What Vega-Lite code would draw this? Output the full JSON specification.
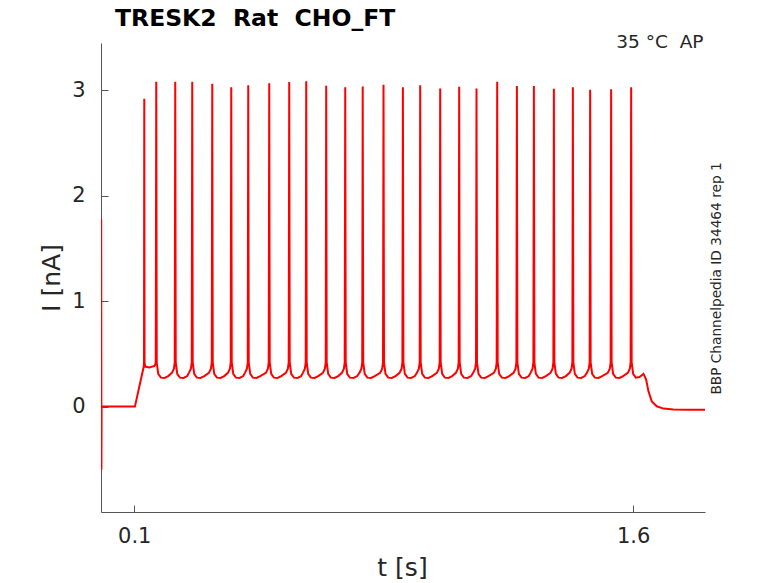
{
  "$schema": "https://vega.github.io/schema/vega-lite/v6.json",
  "autosize": {"type": "none"},
  "padding": {"left": 101, "top": 43, "right": 73, "bottom": 71},
  "width": 604,
  "height": 469,
  "background": "white",
  "config": {
    "view": {"stroke": null},
    "font": "DejaVu Sans",
    "axis": {"grid": false, "labelFont": "DejaVu Sans", "titleFont": "DejaVu Sans", "titleFontWeight": "normal", "labelColor": "#262626", "titleColor": "#262626", "domainColor": "#555555", "tickColor": "#555555"}
  },
  "title": {
    "text": "TRESK2\u00a0\u00a0Rat\u00a0\u00a0CHO_FT",
    "anchor": "start",
    "frame": "group",
    "dx": 14,
    "dy": 28,
    "offset": 11,
    "baseline": "alphabetic",
    "font": "DejaVu Sans",
    "fontSize": 23.5,
    "fontWeight": "bold",
    "color": "#000000"
  },
  "data": {
    "values": [
      {"t": 0, "I": 0},
      {"t": 0.0006, "I": 1.78},
      {"t": 0.0012, "I": -0.6},
      {"t": 0.0018, "I": 0},
      {"t": 0.05, "I": 0.002},
      {"t": 0.102, "I": 0},
      {"t": 0.1285, "I": 0.38},
      {"t": 0.1293, "I": 0.42},
      {"t": 0.1301, "I": 2.921},
      {"t": 0.1309, "I": 0.42},
      {"t": 0.133, "I": 0.38},
      {"t": 0.145, "I": 0.372},
      {"t": 0.155, "I": 0.38},
      {"t": 0.16, "I": 0.385},
      {"t": 0.1635, "I": 0.4},
      {"t": 0.1646, "I": 0.43},
      {"t": 0.1661, "I": 3.083},
      {"t": 0.1676, "I": 0.42},
      {"t": 0.1721, "I": 0.31},
      {"t": 0.1801, "I": 0.275},
      {"t": 0.1911, "I": 0.272},
      {"t": 0.2021, "I": 0.29},
      {"t": 0.2132, "I": 0.32},
      {"t": 0.2192, "I": 0.36},
      {"t": 0.2217, "I": 0.42},
      {"t": 0.2232, "I": 3.083},
      {"t": 0.2247, "I": 0.42},
      {"t": 0.2292, "I": 0.31},
      {"t": 0.2372, "I": 0.275},
      {"t": 0.2482, "I": 0.272},
      {"t": 0.2592, "I": 0.29},
      {"t": 0.2643, "I": 0.32},
      {"t": 0.2703, "I": 0.36},
      {"t": 0.2728, "I": 0.42},
      {"t": 0.2743, "I": 3.083},
      {"t": 0.2758, "I": 0.42},
      {"t": 0.2803, "I": 0.31},
      {"t": 0.2883, "I": 0.275},
      {"t": 0.2993, "I": 0.272},
      {"t": 0.3103, "I": 0.29},
      {"t": 0.3245, "I": 0.32},
      {"t": 0.3305, "I": 0.36},
      {"t": 0.333, "I": 0.42},
      {"t": 0.3345, "I": 3.064},
      {"t": 0.336, "I": 0.42},
      {"t": 0.3405, "I": 0.31},
      {"t": 0.3485, "I": 0.275},
      {"t": 0.3595, "I": 0.272},
      {"t": 0.3705, "I": 0.29},
      {"t": 0.3816, "I": 0.32},
      {"t": 0.3876, "I": 0.36},
      {"t": 0.3901, "I": 0.42},
      {"t": 0.3916, "I": 3.031},
      {"t": 0.3931, "I": 0.42},
      {"t": 0.3976, "I": 0.31},
      {"t": 0.4056, "I": 0.275},
      {"t": 0.4166, "I": 0.272},
      {"t": 0.4276, "I": 0.29},
      {"t": 0.4327, "I": 0.32},
      {"t": 0.4387, "I": 0.36},
      {"t": 0.4412, "I": 0.42},
      {"t": 0.4427, "I": 3.048},
      {"t": 0.4442, "I": 0.42},
      {"t": 0.4487, "I": 0.31},
      {"t": 0.4567, "I": 0.275},
      {"t": 0.4677, "I": 0.272},
      {"t": 0.4787, "I": 0.29},
      {"t": 0.4958, "I": 0.32},
      {"t": 0.5018, "I": 0.36},
      {"t": 0.5043, "I": 0.42},
      {"t": 0.5058, "I": 3.067},
      {"t": 0.5073, "I": 0.42},
      {"t": 0.5118, "I": 0.31},
      {"t": 0.5198, "I": 0.275},
      {"t": 0.5308, "I": 0.272},
      {"t": 0.5418, "I": 0.29},
      {"t": 0.5559, "I": 0.32},
      {"t": 0.5619, "I": 0.36},
      {"t": 0.5644, "I": 0.42},
      {"t": 0.5659, "I": 3.079},
      {"t": 0.5674, "I": 0.42},
      {"t": 0.5719, "I": 0.31},
      {"t": 0.5799, "I": 0.275},
      {"t": 0.5909, "I": 0.272},
      {"t": 0.6019, "I": 0.29},
      {"t": 0.607, "I": 0.32},
      {"t": 0.613, "I": 0.36},
      {"t": 0.6155, "I": 0.42},
      {"t": 0.617, "I": 3.088},
      {"t": 0.6185, "I": 0.42},
      {"t": 0.623, "I": 0.31},
      {"t": 0.631, "I": 0.275},
      {"t": 0.642, "I": 0.272},
      {"t": 0.653, "I": 0.29},
      {"t": 0.6671, "I": 0.32},
      {"t": 0.6731, "I": 0.36},
      {"t": 0.6756, "I": 0.42},
      {"t": 0.6771, "I": 3.045},
      {"t": 0.6786, "I": 0.42},
      {"t": 0.6831, "I": 0.31},
      {"t": 0.6911, "I": 0.275},
      {"t": 0.7021, "I": 0.272},
      {"t": 0.7131, "I": 0.29},
      {"t": 0.7243, "I": 0.32},
      {"t": 0.7303, "I": 0.36},
      {"t": 0.7328, "I": 0.42},
      {"t": 0.7343, "I": 3.029},
      {"t": 0.7358, "I": 0.42},
      {"t": 0.7403, "I": 0.31},
      {"t": 0.7483, "I": 0.275},
      {"t": 0.7593, "I": 0.272},
      {"t": 0.7703, "I": 0.29},
      {"t": 0.7769, "I": 0.32},
      {"t": 0.7829, "I": 0.36},
      {"t": 0.7854, "I": 0.42},
      {"t": 0.7869, "I": 3.038},
      {"t": 0.7884, "I": 0.42},
      {"t": 0.7929, "I": 0.31},
      {"t": 0.8009, "I": 0.275},
      {"t": 0.8119, "I": 0.272},
      {"t": 0.8229, "I": 0.29},
      {"t": 0.8394, "I": 0.32},
      {"t": 0.8454, "I": 0.36},
      {"t": 0.8479, "I": 0.42},
      {"t": 0.8494, "I": 3.054},
      {"t": 0.8509, "I": 0.42},
      {"t": 0.8554, "I": 0.31},
      {"t": 0.8634, "I": 0.275},
      {"t": 0.8744, "I": 0.272},
      {"t": 0.8854, "I": 0.29},
      {"t": 0.8977, "I": 0.32},
      {"t": 0.9037, "I": 0.36},
      {"t": 0.9062, "I": 0.42},
      {"t": 0.9077, "I": 3.031},
      {"t": 0.9092, "I": 0.42},
      {"t": 0.9137, "I": 0.31},
      {"t": 0.9217, "I": 0.275},
      {"t": 0.9327, "I": 0.272},
      {"t": 0.9437, "I": 0.29},
      {"t": 0.9497, "I": 0.32},
      {"t": 0.9557, "I": 0.36},
      {"t": 0.9582, "I": 0.42},
      {"t": 0.9597, "I": 3.048},
      {"t": 0.9612, "I": 0.42},
      {"t": 0.9657, "I": 0.31},
      {"t": 0.9737, "I": 0.275},
      {"t": 0.9847, "I": 0.272},
      {"t": 0.9957, "I": 0.29},
      {"t": 1.0098, "I": 0.32},
      {"t": 1.0158, "I": 0.36},
      {"t": 1.0183, "I": 0.42},
      {"t": 1.0198, "I": 3.019},
      {"t": 1.0213, "I": 0.42},
      {"t": 1.0258, "I": 0.31},
      {"t": 1.0338, "I": 0.275},
      {"t": 1.0448, "I": 0.272},
      {"t": 1.0558, "I": 0.29},
      {"t": 1.0669, "I": 0.32},
      {"t": 1.0729, "I": 0.36},
      {"t": 1.0754, "I": 0.42},
      {"t": 1.0769, "I": 3.035},
      {"t": 1.0784, "I": 0.42},
      {"t": 1.0829, "I": 0.31},
      {"t": 1.0909, "I": 0.275},
      {"t": 1.1019, "I": 0.272},
      {"t": 1.1129, "I": 0.29},
      {"t": 1.119, "I": 0.32},
      {"t": 1.125, "I": 0.36},
      {"t": 1.1275, "I": 0.42},
      {"t": 1.129, "I": 3.019},
      {"t": 1.1305, "I": 0.42},
      {"t": 1.135, "I": 0.31},
      {"t": 1.143, "I": 0.275},
      {"t": 1.154, "I": 0.272},
      {"t": 1.165, "I": 0.29},
      {"t": 1.1812, "I": 0.32},
      {"t": 1.1872, "I": 0.36},
      {"t": 1.1897, "I": 0.42},
      {"t": 1.1912, "I": 3.083},
      {"t": 1.1927, "I": 0.42},
      {"t": 1.1972, "I": 0.31},
      {"t": 1.2052, "I": 0.275},
      {"t": 1.2162, "I": 0.272},
      {"t": 1.2272, "I": 0.29},
      {"t": 1.2404, "I": 0.32},
      {"t": 1.2464, "I": 0.36},
      {"t": 1.2489, "I": 0.42},
      {"t": 1.2504, "I": 3.041},
      {"t": 1.2519, "I": 0.42},
      {"t": 1.2564, "I": 0.31},
      {"t": 1.2644, "I": 0.275},
      {"t": 1.2754, "I": 0.272},
      {"t": 1.2864, "I": 0.29},
      {"t": 1.2915, "I": 0.32},
      {"t": 1.2975, "I": 0.36},
      {"t": 1.3, "I": 0.42},
      {"t": 1.3015, "I": 3.041},
      {"t": 1.303, "I": 0.42},
      {"t": 1.3075, "I": 0.31},
      {"t": 1.3155, "I": 0.275},
      {"t": 1.3265, "I": 0.272},
      {"t": 1.3375, "I": 0.29},
      {"t": 1.3516, "I": 0.32},
      {"t": 1.3576, "I": 0.36},
      {"t": 1.3601, "I": 0.42},
      {"t": 1.3616, "I": 3.016},
      {"t": 1.3631, "I": 0.42},
      {"t": 1.3676, "I": 0.31},
      {"t": 1.3756, "I": 0.275},
      {"t": 1.3866, "I": 0.272},
      {"t": 1.3976, "I": 0.29},
      {"t": 1.4087, "I": 0.32},
      {"t": 1.4147, "I": 0.36},
      {"t": 1.4172, "I": 0.42},
      {"t": 1.4187, "I": 3.031},
      {"t": 1.4202, "I": 0.42},
      {"t": 1.4247, "I": 0.31},
      {"t": 1.4327, "I": 0.275},
      {"t": 1.4437, "I": 0.272},
      {"t": 1.4547, "I": 0.29},
      {"t": 1.4607, "I": 0.32},
      {"t": 1.4667, "I": 0.36},
      {"t": 1.4692, "I": 0.42},
      {"t": 1.4707, "I": 3.007},
      {"t": 1.4722, "I": 0.42},
      {"t": 1.4767, "I": 0.31},
      {"t": 1.4847, "I": 0.275},
      {"t": 1.4957, "I": 0.272},
      {"t": 1.5067, "I": 0.29},
      {"t": 1.5238, "I": 0.32},
      {"t": 1.5298, "I": 0.36},
      {"t": 1.5323, "I": 0.42},
      {"t": 1.5338, "I": 3.01},
      {"t": 1.5353, "I": 0.42},
      {"t": 1.5398, "I": 0.31},
      {"t": 1.5478, "I": 0.275},
      {"t": 1.5588, "I": 0.272},
      {"t": 1.5698, "I": 0.29},
      {"t": 1.584, "I": 0.32},
      {"t": 1.59, "I": 0.36},
      {"t": 1.5925, "I": 0.42},
      {"t": 1.594, "I": 3.029},
      {"t": 1.5955, "I": 0.42},
      {"t": 1.6, "I": 0.31},
      {"t": 1.608, "I": 0.275},
      {"t": 1.619, "I": 0.28},
      {"t": 1.627, "I": 0.3},
      {"t": 1.631, "I": 0.31},
      {"t": 1.639, "I": 0.256},
      {"t": 1.646, "I": 0.145},
      {"t": 1.656, "I": 0.05},
      {"t": 1.671, "I": 0.003},
      {"t": 1.691, "I": -0.019},
      {"t": 1.721, "I": -0.028},
      {"t": 1.76, "I": -0.03},
      {"t": 1.816, "I": -0.03}
    ]
  },
  "layer": [
    {
      "mark": {"type": "line", "color": "#ff0000", "strokeWidth": 2, "clip": true},
      "encoding": {
        "x": {
          "field": "t", "type": "quantitative",
          "scale": {"domain": [0, 1.816], "nice": false, "zero": false},
          "axis": {
            "orient": "bottom", "values": [0.1, 1.6], "format": ".1f",
            "labelFontSize": 21, "tickSize": -7, "labelPadding": 20,
            "title": "t [s]", "titleFontSize": 25,
            "titleX": 301, "titleY": 63, "titleBaseline": "alphabetic", "titleAlign": "center"
          }
        },
        "y": {
          "field": "I", "type": "quantitative",
          "scale": {"domain": [-1, 3.45], "nice": false, "zero": false},
          "axis": {
            "orient": "left", "values": [0, 1, 2, 3],
            "labelFontSize": 21, "tickSize": -7, "labelPadding": 23,
            "title": "I [nA]", "titleFontSize": 25, "titleAngle": 270,
            "titleX": -42, "titleY": 234.5, "titleBaseline": "alphabetic", "titleAlign": "center"
          }
        }
      }
    },
    {
      "mark": {"type": "point", "opacity": 0, "size": 0},
      "encoding": {
        "x": {
          "field": "t", "type": "quantitative",
          "scale": {"domain": [0, 1.816], "nice": false, "zero": false},
          "axis": {
            "orient": "top", "domain": false, "ticks": false, "labels": false,
            "title": "35 °C\u00a0\u00a0AP", "titleFontSize": 18.5,
            "titleX": 602, "titleY": 4.5, "titleAlign": "right", "titleBaseline": "alphabetic"
          }
        },
        "y": {
          "field": "I", "type": "quantitative",
          "scale": {"domain": [-1, 3.45], "nice": false, "zero": false},
          "axis": {
            "orient": "right", "domain": false, "ticks": false, "labels": false,
            "title": "BBP Channelpedia ID 34464 rep 1", "titleFontSize": 13.7, "titleAngle": 270,
            "titleX": 15, "titleY": 235, "titleAlign": "center", "titleBaseline": "alphabetic"
          }
        }
      }
    }
  ],
  "resolve": {"axis": {"x": "independent", "y": "independent"}}
}
